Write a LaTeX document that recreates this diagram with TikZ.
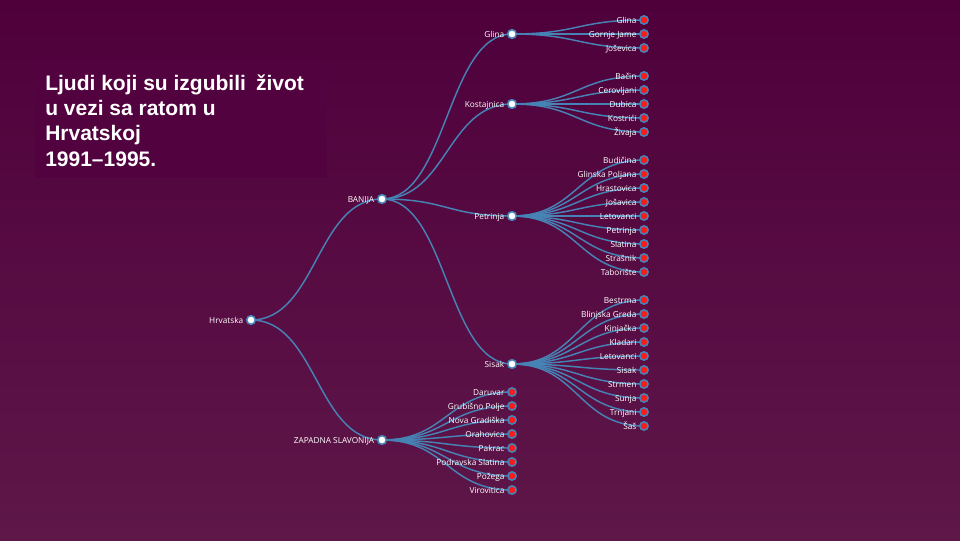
\documentclass[tikz,border=0pt]{standalone}
\usepackage{fontspec}
\setmainfont{Open Sans}
\newfontfamily\titlefont{Liberation Sans}
\usetikzlibrary{calc}
\pgfdeclarelayer{bg}
\pgfdeclarelayer{links}
\pgfsetlayers{bg,links,main}
\definecolor{bgtop}{HTML}{4F003B}
\definecolor{bgbot}{HTML}{5E1749}
\definecolor{boxcol}{HTML}{52023E}
\definecolor{steel}{HTML}{4682B4}
\definecolor{leafred}{HTML}{FF1A1A}
\tikzset{
  inode/.style={circle,draw=steel,fill=white,line width=1.2pt,minimum size=6.5pt,inner sep=0pt},
  leaf/.style={circle,draw=steel,fill=leafred,line width=1.2pt,minimum size=6.2pt,inner sep=0pt},
  link/.style={draw=steel,line width=1.1pt},
  lbl/.style={font=\fontsize{6.2}{7}\selectfont,text=white,inner sep=0pt,text height=4.4pt,text depth=0pt,yshift=-0.6pt},
  every label/.style={lbl},
  label distance=1.8pt,
  ttl/.style={font=\titlefont\bfseries\fontsize{15.75}{18.75}\selectfont,text=white,inner sep=0pt,anchor=base west}
}
\newcommand\lnk[2]{\draw[link] let \p1=(#1.center),\p2=(#2.center) in (\p1) .. controls ({(\x1+\x2)/2},\y1) and ({(\x1+\x2)/2},\y2) .. (\p2);}
\begin{document}
\begin{tikzpicture}[x=0.75pt,y=-0.75pt]
\useasboundingbox (0,0) rectangle (960,540);
\begin{pgfonlayer}{bg}
\shade[top color=bgtop,bottom color=bgbot] (0,0) rectangle (960,540);
\fill[boxcol] (35,62) rectangle (327,178);
\end{pgfonlayer}
\node[ttl] (t1) at (45,90) {Ljudi koji su izgubili\hspace{0.2em} život};
\node[ttl] (t2) at (45,115) {u vezi sa ratom u};
\node[ttl] (t3) at (45,140) {Hrvatskoj};
\node[ttl] (t4) at (45,166) {1991–1995.};
% internal nodes
\node[inode,label=left:Hrvatska] (hr) at (251,320) {};
\node[inode,label=left:BANIJA] (ban) at (382,199) {};
\node[inode,label=left:ZAPADNA SLAVONIJA] (zs) at (382,440) {};
\node[inode,label=left:Glina] (gli) at (512,34) {};
\node[inode,label=left:Kostajnica] (kos) at (512,104) {};
\node[inode,label=left:Petrinja] (pet) at (512,216) {};
\node[inode,label=left:Sisak] (sis) at (512,364) {};
\begin{pgfonlayer}{links}
\lnk{hr}{ban}\lnk{hr}{zs}
\lnk{ban}{gli}\lnk{ban}{kos}\lnk{ban}{pet}\lnk{ban}{sis}
\end{pgfonlayer}
% leaves
\foreach \t [count=\i] in {Glina,Gornje Jame,Joševica}{
  \node[leaf,label=left:\t] (ga\i) at (644,{20+14*(\i-1)}) {};
  \begin{pgfonlayer}{links}\lnk{gli}{ga\i}\end{pgfonlayer}
}
\foreach \t [count=\i] in {Bačin,Cerovljani,Dubica,Kostrići,Živaja}{
  \node[leaf,label=left:\t] (ko\i) at (644,{76+14*(\i-1)}) {};
  \begin{pgfonlayer}{links}\lnk{kos}{ko\i}\end{pgfonlayer}
}
\foreach \t [count=\i] in {Budičina,Glinska Poljana,Hrastovica,Jošavica,Letovanci,Petrinja,Slatina,Strašnik,Taborište}{
  \node[leaf,label=left:\t] (pe\i) at (644,{160+14*(\i-1)}) {};
  \begin{pgfonlayer}{links}\lnk{pet}{pe\i}\end{pgfonlayer}
}
\foreach \t [count=\i] in {Bestrma,Blinjska Greda,Kinjačka,Kladari,Letovanci,Sisak,Strmen,Sunja,Trnjani,Šaš}{
  \node[leaf,label=left:\t] (si\i) at (644,{300+14*(\i-1)}) {};
  \begin{pgfonlayer}{links}\lnk{sis}{si\i}\end{pgfonlayer}
}
\foreach \t [count=\i] in {Daruvar,Grubišno Polje,Nova Gradiška,Orahovica,Pakrac,Podravska Slatina,Požega,Virovitica}{
  \node[leaf,label=left:\t] (zl\i) at (512,{392+14*(\i-1)}) {};
  \begin{pgfonlayer}{links}\lnk{zs}{zl\i}\end{pgfonlayer}
}
\end{tikzpicture}
\end{document}
